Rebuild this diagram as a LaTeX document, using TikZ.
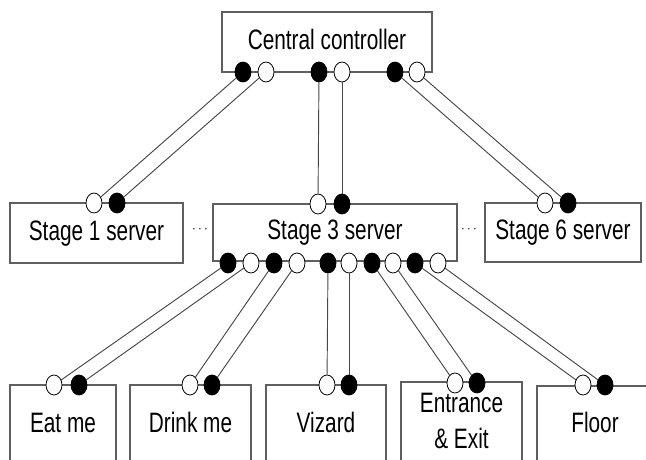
\documentclass[tikz,border=0pt]{standalone}
\usepackage{fontspec}
\setmainfont{Liberation Sans}
\usetikzlibrary{shapes.geometric}
\newcommand{\lbl}[1]{\scalebox{1}[1.35]{\begin{tabular}{@{}c@{}}#1\end{tabular}}}
\begin{document}
\begin{tikzpicture}[x=0.75pt,y=0.75pt,yscale=-1,xscale=1,
    unit/.style={draw={rgb,255:red,95;green,95;blue,95}, line width=0.8pt, inner sep=0pt,
      font=\fontsize{15.6}{20}\selectfont},
    sink/.style={ellipse, draw=black, line width=0.6pt, fill=white, inner sep=0pt, minimum width=12pt, minimum height=15pt},
    src/.style={sink, fill=black},
    wire/.style={draw={rgb,255:red,70;green,70;blue,70}, line width=0.7pt}]
    \useasboundingbox (0,0) rectangle (646,460);
    \clip (0,0) rectangle (646,460);
    % boxes
    \node [unit, minimum width=157.5pt, minimum height=45pt] (ctrl) at (327,42) {\lbl{Central controller}};
    \node [unit, minimum width=129.75pt, minimum height=45pt] (st1) at (96.5,233) {\lbl{Stage 1 server}};
    \node [unit, minimum width=183pt, minimum height=42.75pt] (st3) at (335,232.5) {\lbl{Stage 3 server}};
    \node [unit, minimum width=117pt, minimum height=44.25pt] (st6) at (563,232.5) {\lbl{Stage 6 server}};
    \node [unit, minimum width=79.5pt, minimum height=60pt] (eat) at (63,425) {\lbl{Eat me}};
    \node [unit, minimum width=90.75pt, minimum height=60pt] (drink) at (190.5,425) {\lbl{Drink me}};
    \node [unit, minimum width=90pt, minimum height=60pt] (viz) at (326,425) {\lbl{Vizard}};
    \node [unit, minimum width=90.75pt, minimum height=62.25pt] (door) at (461.5,423.5) {\lbl{Entrance\\\& Exit}};
    \node [unit, minimum width=87pt, minimum height=59.25pt] (floor) at (595,425.5) {\lbl{Floor}};
    \node (dotsA) at (200,230) {$\cdots$};
    \node (dotsB) at (469,230) {$\cdots$};
    % ports of the controller
    \node [src] (ctrlA) at (243,72) {};
    \node [sink] (ctrlB) at (266,72) {};
    \node [src] (ctrlC) at (319,72) {};
    \node [sink] (ctrlD) at (342,72) {};
    \node [src] (ctrlE) at (395,72) {};
    \node [sink] (ctrlF) at (417,72) {};
    % ports of the servers
    \node [sink] (st1in) at (94,203) {};
    \node [src] (st1out) at (117,203) {};
    \node [sink] (st3in) at (318,204) {};
    \node [src] (st3out) at (342,204) {};
    \node [sink] (st6in) at (545,203) {};
    \node [src] (st6out) at (568,203) {};
    \node [src] (st3A) at (228,263) {};
    \node [sink] (st3B) at (251,263) {};
    \node [src] (st3C) at (274,263) {};
    \node [sink] (st3D) at (297,263) {};
    \node [src] (st3E) at (328,263) {};
    \node [sink] (st3F) at (349,263) {};
    \node [src] (st3G) at (372,263) {};
    \node [sink] (st3H) at (393,263) {};
    \node [src] (st3I) at (415,263) {};
    \node [sink] (st3J) at (438,263) {};
    % ports of the devices
    \node [sink] (eatin) at (54,385) {};
    \node [src] (eatout) at (79,385) {};
    \node [sink] (drinkin) at (190,385) {};
    \node [src] (drinkout) at (212,385) {};
    \node [sink] (vizin) at (327,385) {};
    \node [src] (vizout) at (349,385) {};
    \node [sink] (doorin) at (455,383) {};
    \node [src] (doorout) at (477,383) {};
    \node [sink] (floorin) at (583,385) {};
    \node [src] (floorout) at (605,385) {};
    % wires
    \draw [wire] (ctrlA) -- (st1in);
    \draw [wire] (ctrlB) -- (st1out);
    \draw [wire] (ctrlC) -- (st3in);
    \draw [wire] (ctrlD) -- (st3out);
    \draw [wire] (ctrlE) -- (st6in);
    \draw [wire] (ctrlF) -- (st6out);
    \draw [wire] (st3A) -- (eatin);
    \draw [wire] (st3B) -- (eatout);
    \draw [wire] (st3C) -- (drinkin);
    \draw [wire] (st3D) -- (drinkout);
    \draw [wire] (st3E) -- (vizin);
    \draw [wire] (st3F) -- (vizout);
    \draw [wire] (st3G) -- (doorin);
    \draw [wire] (st3H) -- (doorout);
    \draw [wire] (st3I) -- (floorin);
    \draw [wire] (st3J) -- (floorout);
\end{tikzpicture}
\end{document}
